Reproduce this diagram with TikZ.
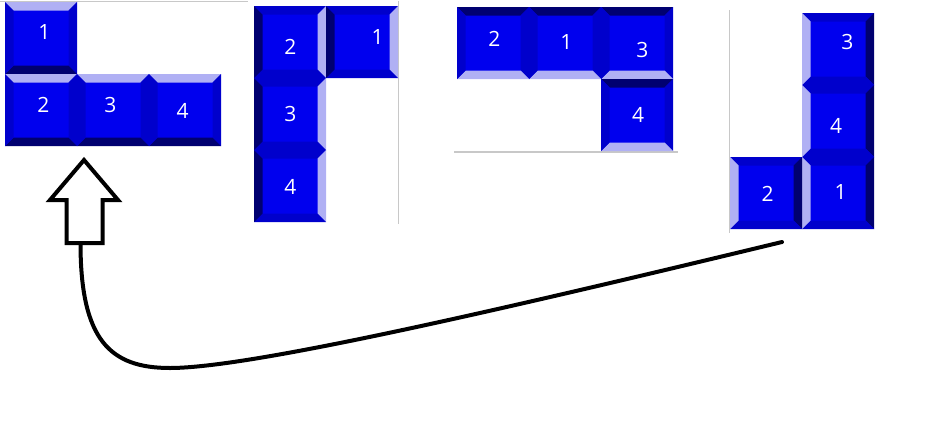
\documentclass[tikz,border=0pt]{standalone}
\usepackage{fontspec}
\setmainfont{Open Sans}
\usetikzlibrary{calc}
\definecolor{bvL}{RGB}{176,176,244}
\definecolor{bvM}{RGB}{0,0,204}
\definecolor{bvD}{RGB}{0,0,112}
\definecolor{face}{RGB}{0,0,238}
\definecolor{rule}{RGB}{200,200,200}
\tikzset{
  tile/.style n args={4}{minimum width=72pt, minimum height=72pt, inner sep=0pt, outer sep=0pt, fill=face,
    path picture={
      \fill[#1] (path picture bounding box.north west) -- (path picture bounding box.north east)
         -- ($(path picture bounding box.north east)+(-8.5,8.5)$) -- ($(path picture bounding box.north west)+(8.5,8.5)$) -- cycle;
      \fill[#2] (path picture bounding box.north east) -- (path picture bounding box.south east)
         -- ($(path picture bounding box.south east)+(-8.5,-8.5)$) -- ($(path picture bounding box.north east)+(-8.5,8.5)$) -- cycle;
      \fill[#3] (path picture bounding box.south west) -- (path picture bounding box.south east)
         -- ($(path picture bounding box.south east)+(-8.5,-8.5)$) -- ($(path picture bounding box.south west)+(8.5,-8.5)$) -- cycle;
      \fill[#4] (path picture bounding box.north west) -- (path picture bounding box.south west)
         -- ($(path picture bounding box.south west)+(8.5,-8.5)$) -- ($(path picture bounding box.north west)+(8.5,8.5)$) -- cycle;
    }},
  tileA/.style={tile={bvL}{bvM}{bvD}{bvM}},
  tileB/.style={tile={bvM}{bvL}{bvM}{bvD}},
  tileC/.style={tile={bvD}{bvM}{bvL}{bvM}},
  tileE/.style={tile={bvM}{bvD}{bvM}{bvL}},
  lbl/.style={text=white, inner sep=0pt, font=\fontsize{21}{24}\selectfont},
  ruleline/.style={draw=rule, line width=1.2pt},
  outline/.style={draw=black, line width=4pt, line join=miter},
  curve/.style={draw=black, line width=4pt, line cap=round},
}
\begin{document}
\begin{tikzpicture}[x=1pt, y=-1pt]
\useasboundingbox (0,0) rectangle (935,440);
% separator lines
\draw[ruleline] (0,1.5) -- (248,1.5);
\draw[ruleline] (398.5,1) -- (398.5,224);
\draw[ruleline] (454,152) -- (678,152);
\draw[ruleline] (729.5,10) -- (729.5,233);
% group 1
\node[tileA] (a1) at (41,38) {};
\node[tileA] (a2) at (41,110) {};
\node[tileA] (a3) at (113,110) {};
\node[tileA] (a4) at (185,110) {};
\node[lbl] (la1) at (44.3,31.7) {1};
\node[lbl] (la2) at (43.3,105) {2};
\node[lbl] (la3) at (110.3,105.3) {3};
\node[lbl] (la4) at (182.7,111) {4};
% group 2
\node[tileB] (b2) at (290,42) {};
\node[tileB] (b1) at (362,42) {};
\node[tileB] (b3) at (290,114) {};
\node[tileB] (b4) at (290,186) {};
\node[lbl] (lb2) at (290.3,46.7) {2};
\node[lbl] (lb1) at (377.7,37.3) {1};
\node[lbl] (lb3) at (290.3,114) {3};
\node[lbl] (lb4) at (290.3,187.3) {4};
% group 3
\node[tileC] (c2) at (493,43) {};
\node[tileC] (c1) at (565,43) {};
\node[tileC] (c3) at (637,43) {};
\node[tileC] (c4) at (637,115) {};
\node[lbl] (lc2) at (494.3,39) {2};
\node[lbl] (lc1) at (566.3,42.3) {1};
\node[lbl] (lc3) at (642.3,50) {3};
\node[lbl] (lc4) at (638,115.3) {4};
% group 4
\node[tileE] (d3) at (838,49) {};
\node[tileE] (d4) at (838,121) {};
\node[tileE] (d1) at (838,193) {};
\node[tileE] (d2) at (766,193) {};
\node[lbl] (ld3) at (847.3,41.7) {3};
\node[lbl] (ld4) at (836,126) {4};
\node[lbl] (ld1) at (840.7,191.7) {1};
\node[lbl] (ld2) at (767.7,194.3) {2};
% outline arrow
\coordinate (arrtip) at (84,160);
\coordinate (arrtail) at (80.5,243);
\coordinate (curveend) at (782,242);
\draw[outline] (arrtip) -- (50,200) -- (66.7,200) -- (66.7,243) -- (102.7,243) -- (102.7,200) -- (118,200) -- cycle;
% curve
\draw[curve] (arrtail) .. controls (80.5,340) and (110,368) .. (170,368)
   .. controls (250,368) and (500,310) .. (curveend);
\end{tikzpicture}
\end{document}
